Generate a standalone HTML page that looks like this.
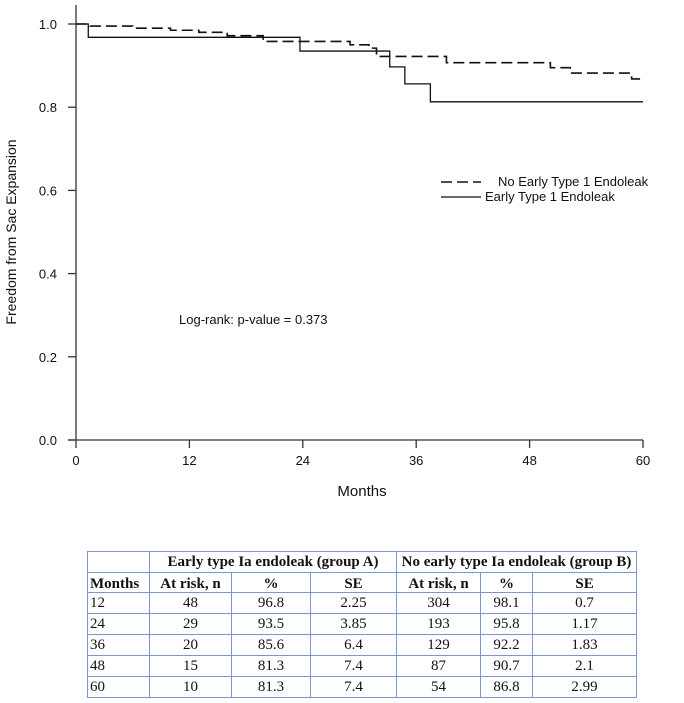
<!DOCTYPE html>
<html><head><meta charset="utf-8"><style>
body{margin:0;background:#fff;width:684px;height:703px;overflow:hidden;font-family:"Liberation Sans",Arial,sans-serif}
table{position:absolute;left:87px;top:551px;width:549px;border-collapse:collapse;font-family:"Liberation Serif",serif;font-size:15px;color:#111;table-layout:fixed}
td{border:1.5px solid #7f95cf;padding:0;text-align:center;line-height:15px;overflow:hidden;white-space:nowrap}
tr.r td{height:20px}
tr.h1 td{height:20px}
tr.h2 td{height:19px;vertical-align:bottom}
td.l{text-align:left;padding-left:2px}
.h td{font-weight:bold}
</style></head><body>
<svg width="684" height="540" style="position:absolute;left:0;top:0" font-family="Liberation Sans, Arial, sans-serif">
<g id="axes" stroke="#333" stroke-width="1.3"></g>
<g id="lbls" font-size="13" fill="#111"></g>
<path id="dash" fill="none" stroke="#111" stroke-width="1.6" stroke-dasharray="11,5"/>
<path id="solid" fill="none" stroke="#111" stroke-width="1.3"/>
<text transform="translate(16,232) rotate(-90)" text-anchor="middle" font-size="14" fill="#111">Freedom from Sac Expansion</text>
<text x="362" y="496" text-anchor="middle" font-size="15" fill="#111">Months</text>
<text x="179" y="324" font-size="13" fill="#111">Log-rank: p-value = 0.373</text>
<g>
<line x1="441" y1="182" x2="481" y2="182" stroke="#111" stroke-width="1.6" stroke-dasharray="11,5"/>
<text x="498" y="186" font-size="13" fill="#111">No Early Type 1 Endoleak</text>
<line x1="441" y1="197" x2="481" y2="197" stroke="#111" stroke-width="1.3"/>
<text x="485" y="201" font-size="13" fill="#111">Early Type 1 Endoleak</text>
</g>
</svg>
<table>
<colgroup><col style="width:62px"><col style="width:82px"><col style="width:79px"><col style="width:86px"><col style="width:84px"><col style="width:52px"><col style="width:104px"></colgroup>
<tr class="h h1"><td></td><td colspan="3">Early type Ia endoleak (group A)</td><td colspan="3">No early type Ia endoleak (group B)</td></tr>
<tr class="h h2"><td class="l">Months</td><td>At risk, n</td><td>%</td><td>SE</td><td>At risk, n</td><td>%</td><td>SE</td></tr>
<tr class="r"><td class="l">12</td><td>48</td><td>96.8</td><td>2.25</td><td>304</td><td>98.1</td><td>0.7</td></tr>
<tr class="r"><td class="l">24</td><td>29</td><td>93.5</td><td>3.85</td><td>193</td><td>95.8</td><td>1.17</td></tr>
<tr class="r"><td class="l">36</td><td>20</td><td>85.6</td><td>6.4</td><td>129</td><td>92.2</td><td>1.83</td></tr>
<tr class="r"><td class="l">48</td><td>15</td><td>81.3</td><td>7.4</td><td>87</td><td>90.7</td><td>2.1</td></tr>
<tr class="r"><td class="l">60</td><td>10</td><td>81.3</td><td>7.4</td><td>54</td><td>86.8</td><td>2.99</td></tr>
</table>
<script>
const xTicks=[0,12,24,36,48,60];
const yTicks=[0,0.2,0.4,0.6,0.8,1.0];
const solidT=[0,1.3,23.7,33.2,34.8,37.5,60];
const solidS=[1.0,0.968,0.935,0.897,0.856,0.813,0.813];
const dashT=[0,1.5,6,10,13,16,19.8,29,31,31.8,39.2,50.2,52.3,58.8,60];
const dashS=[1.0,0.995,0.99,0.985,0.98,0.972,0.958,0.95,0.942,0.922,0.907,0.895,0.882,0.868,0.868];
const X=m=>76+m*(643-76)/60, Y=v=>440-v*416;
const NS="http://www.w3.org/2000/svg";
function mk(t,a,p){const e=document.createElementNS(NS,t);for(const k in a)e.setAttribute(k,a[k]);p.appendChild(e);return e;}
const ax=document.getElementById('axes'),lb=document.getElementById('lbls');
let e=mk('line',{x1:X(0),y1:5,x2:X(0),y2:Y(0)},ax);


e=mk('line',{x1:X(0)-8,y1:Y(0),x2:X(60),y2:Y(0)},ax);


xTicks.forEach(t=>{mk('line',{x1:X(t),y1:Y(0),x2:X(t),y2:Y(0)+8},ax);
 const s=mk('text',{x:X(t),y:465,'text-anchor':'middle'},lb);s.textContent=t;
 
 });
yTicks.forEach(v=>{mk('line',{x1:X(0)-8,y1:Y(v),x2:X(0),y2:Y(v)},ax);
 const s=mk('text',{x:57,y:Y(v)+5,'text-anchor':'end'},lb);s.textContent=v.toFixed(1);
 
 });
function step(T,S){let d='M'+X(T[0])+','+Y(S[0]);for(let i=1;i<T.length;i++){d+=' H'+X(T[i])+' V'+Y(S[i]);}return d;}
document.getElementById('solid').setAttribute('d',step(solidT,solidS));
document.getElementById('dash').setAttribute('d',step(dashT,dashS));
</script>
</body></html>
